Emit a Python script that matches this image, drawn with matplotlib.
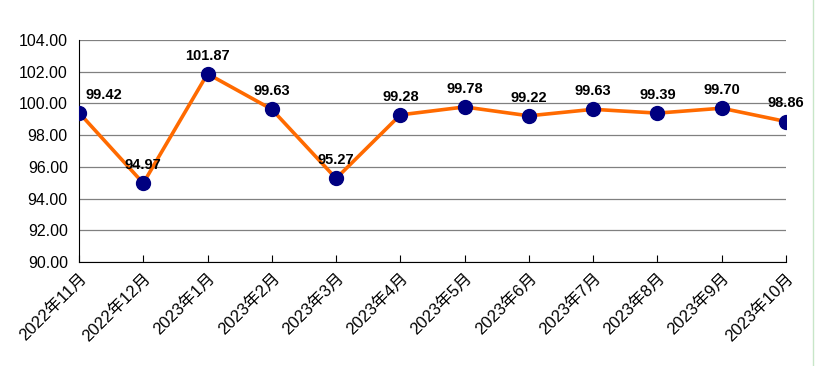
import matplotlib.pyplot as plt
from matplotlib.ticker import FormatStrFormatter

# =========================
# DATA
# =========================

months = [
    "2022年11月", "2022年12月", "2023年1月", "2023年2月", "2023年3月", "2023年4月",
    "2023年5月", "2023年6月", "2023年7月", "2023年8月", "2023年9月", "2023年10月",
]
values = [99.42, 94.97, 101.87, 99.63, 95.27, 99.28, 99.78, 99.22, 99.63, 99.39, 99.70, 98.86]

plt.rcParams["font.family"] = ["Liberation Sans", "Noto Sans CJK SC", "DejaVu Sans"]

# =========================
# PLOT
# =========================

fig = plt.figure(figsize=(8.15, 3.66), dpi=100)
ax = fig.add_axes([0.0969, 0.284, 0.8675, 0.6067])

x = list(range(len(months)))
ax.plot(x, values, color="#FF6A00", linewidth=2.6, zorder=3)
ax.plot(x, values, linestyle="none", marker="o", markersize=10,
        markerfacecolor="#000080", markeredgecolor="#000080", zorder=4)

for i, v in enumerate(values):
    dx = 0.38 if i == 0 else 0.0
    ax.annotate(f"{v:.2f}", (i + dx, v), xytext=(0, 8), textcoords="offset points",
                ha="center", va="bottom", fontsize=10.5, fontweight="bold", color="black",
                annotation_clip=False)

ax.set_xlim(0, len(months) - 1)
ax.set_ylim(90, 104)
ax.set_yticks(range(90, 105, 2))
ax.yaxis.set_major_formatter(FormatStrFormatter("%.2f"))
ax.set_xticks(x)
ax.set_xticklabels(months, rotation=45, ha="right", rotation_mode="anchor", fontsize=12)

ax.grid(axis="y", color="#808080", linewidth=0.9)
ax.set_axisbelow(True)
for s in ["top", "right"]:
    ax.spines[s].set_visible(False)
ax.spines["left"].set_color("black")
ax.spines["bottom"].set_color("black")
ax.tick_params(axis="y", length=0, labelsize=11.5, pad=8)
ax.tick_params(axis="x", direction="in", length=5, color="black", pad=6)

fig.add_artist(plt.Line2D([0.998, 0.998], [0, 1], color="#C8E6C8", linewidth=1))

plt.savefig("out.png", dpi=100)
plt.close()
